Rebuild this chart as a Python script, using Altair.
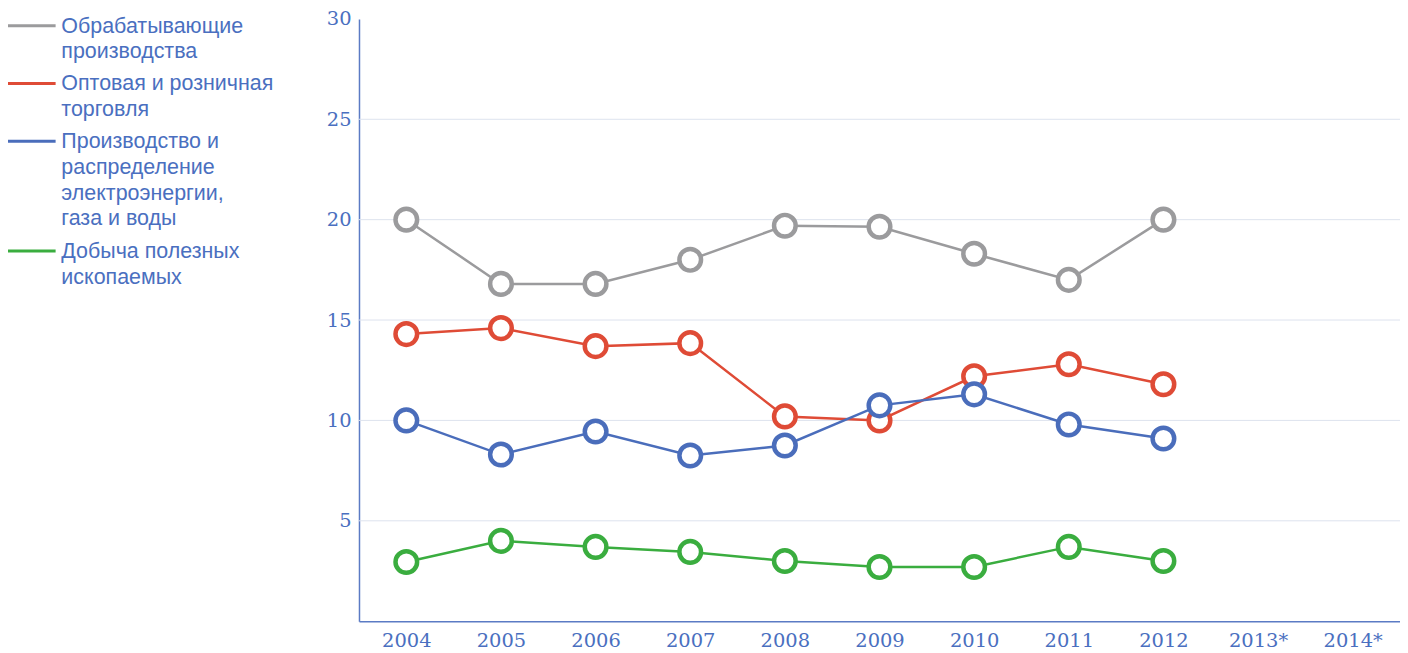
import altair as alt
import pandas as pd

years = ["2004", "2005", "2006", "2007", "2008", "2009", "2010", "2011", "2012", "2013*", "2014*"]
data_years = years[:9]

series_names = [
    "Обрабатывающие\nпроизводства",
    "Оптовая и розничная\nторговля",
    "Производство и\nраспределение\nэлектроэнергии,\nгаза и воды",
    "Добыча полезных\nископаемых",
]
series_colors = ["#9b9b9d", "#df4b36", "#4a6dbb", "#3aad3f"]

manufacturing = [20.0, 16.8, 16.8, 18.0, 19.7, 19.65, 18.3, 17.0, 20.0]
trade = [14.3, 14.6, 13.7, 13.85, 10.2, 10.0, 12.2, 12.8, 11.8]
energy = [10.0, 8.3, 9.45, 8.25, 8.75, 10.75, 11.3, 9.8, 9.1]
mining = [2.95, 4.0, 3.7, 3.45, 3.0, 2.7, 2.7, 3.7, 3.0]

y_ticks = [5, 10, 15, 20, 25, 30]
grid_values = [5, 10, 15, 20, 25]

rows = []
for name, vals in zip(series_names, [manufacturing, trade, energy, mining]):
    for yr, v in zip(data_years, vals):
        rows.append({"year": yr, "series": name, "value": v})
df = pd.DataFrame(rows)
grid_df = pd.DataFrame({"value": grid_values})

axis_blue = "#4a6fc0"

x_enc = alt.X("year:N", scale=alt.Scale(domain=years, paddingInner=0, paddingOuter=0),
              sort=years,
              axis=alt.Axis(title=None, labelAngle=0, ticks=False, grid=False,
                            domainColor="#5b7bc4", domainWidth=1.5,
                            labelFont="DejaVu Serif", labelFontSize=19.5,
                            labelColor=axis_blue, labelPadding=10))
y_scale = alt.Scale(domain=[0, 30], nice=False)
y_axis = alt.Axis(title=None, values=y_ticks, ticks=False, grid=False,
                  domainColor="#5b7bc4", domainWidth=1.5,
                  labelFont="DejaVu Serif", labelFontSize=19.5,
                  labelColor=axis_blue, labelPadding=8)
y_enc = alt.Y("value:Q", scale=y_scale, axis=y_axis)
color_scale = alt.Scale(domain=series_names, range=series_colors)
color_enc = alt.Color("series:N",
                      scale=color_scale,
                      legend=alt.Legend(title=None, orient="none", legendX=-361, legendY=-14,
                                        symbolType="M-1,5H23", symbolSize=16, symbolStrokeWidth=3,
                                        labelExpr="split(datum.label, '\\n')",
                                        labelFont="Liberation Sans", labelFontSize=21.5,
                                        labelColor=axis_blue, labelBaseline="top",
                                        labelOffset=41, rowPadding=-6, labelLimit=400))

grid = alt.Chart(grid_df).mark_rule(color="#dde3ee", strokeWidth=1).encode(y=y_enc)

base = alt.Chart(df)
lines = base.mark_line(strokeWidth=2.5).encode(x=x_enc, y=y_enc, color=color_enc)
points = base.mark_point(filled=False, fill="white", fillOpacity=1, size=470, strokeWidth=4.5, opacity=1).encode(
    x=x_enc, y=y_enc, color=alt.Color("series:N", scale=color_scale, legend=None))

chart = alt.layer(grid, lines, points).properties(
    width=1044, height=604,
    padding={"left": 352, "top": 10, "right": 0, "bottom": 40},
    autosize=alt.AutoSizeParams(type="none"),
).configure(background="white", style={"guide-label": {"lineHeight": 25.7}}).configure_view(strokeWidth=0)

chart.save("out.html", embed_options={"renderer": "svg", "actions": False})
